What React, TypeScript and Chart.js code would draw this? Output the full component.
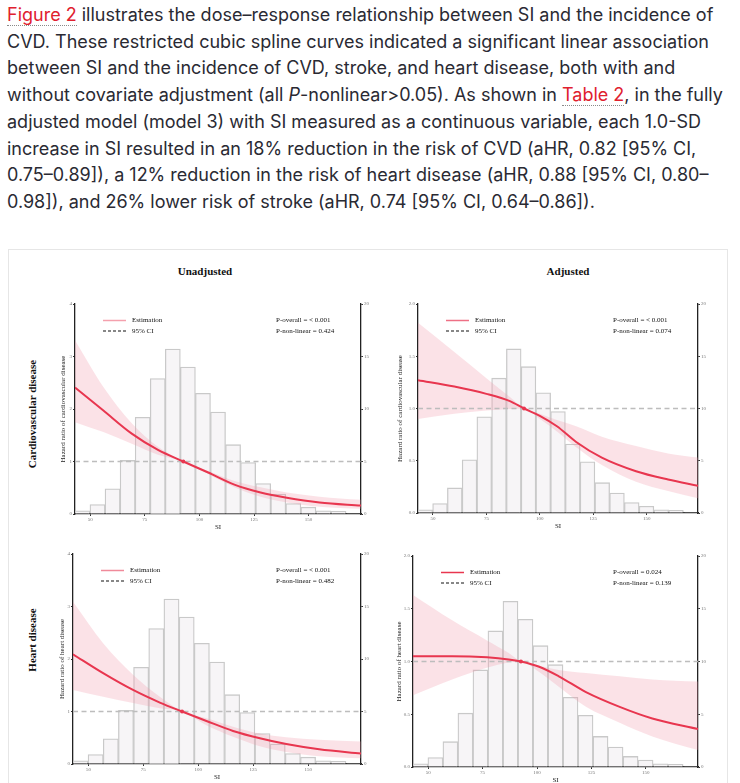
import React, { useEffect, useRef } from "react";
import { Chart, registerables } from "chart.js";
Chart.register(...registerables);

const SERIF = '"Liberation Serif", "DejaVu Serif", serif';

// Histogram of SI (percent), shared by all panels
const binCenters = [46.4, 53.3, 60.2, 67.1, 74.0, 80.9, 87.8, 94.7, 101.6, 108.5, 115.4, 122.3, 129.2, 136.1, 143.0, 149.9, 156.8, 163.7, 170.6];
const histPct = [0.3, 0.9, 2.4, 5.1, 9.2, 12.9, 15.7, 14.0, 11.5, 9.7, 6.6, 4.9, 2.9, 1.9, 1.0, 0.65, 0.3, 0.25, 0.05];

const xTicks = [50, 75, 100, 125, 150];
const xMin = 43;
const xMax = 174;
const refX = 92.6;

// Unadjusted, cardiovascular disease
const cvdUnadjX = [43, 56, 69, 81, 92.6, 104, 116, 128, 140, 155, 174];
const cvdUnadjEst = [2.41, 1.97, 1.53, 1.22, 1.0, 0.79, 0.56, 0.41, 0.31, 0.22, 0.16];
const cvdUnadjUp = [3.31, 2.42, 1.73, 1.28, 1.0, 0.82, 0.63, 0.51, 0.41, 0.33, 0.27];
const cvdUnadjLo = [1.75, 1.56, 1.34, 1.13, 1.0, 0.76, 0.51, 0.33, 0.22, 0.14, 0.1];

// Adjusted, cardiovascular disease
const cvdAdjX = [43, 60, 75, 86, 92.6, 100, 108, 117, 129, 145, 160, 174];
const cvdAdjEst = [1.27, 1.21, 1.14, 1.07, 1.0, 0.93, 0.83, 0.68, 0.53, 0.4, 0.32, 0.26];
const cvdAdjUp = [1.82, 1.54, 1.29, 1.11, 1.0, 0.95, 0.89, 0.83, 0.73, 0.64, 0.57, 0.53];
const cvdAdjLo = [0.9, 0.95, 0.98, 0.995, 1.0, 0.9, 0.78, 0.63, 0.46, 0.3, 0.21, 0.14];

// Unadjusted, heart disease
const hdUnadjX = [43, 56.7, 70.3, 82.5, 92.6, 103.7, 115.8, 128, 140, 155, 174];
const hdUnadjEst = [2.09, 1.73, 1.41, 1.17, 1.0, 0.82, 0.63, 0.49, 0.38, 0.28, 0.2];
const hdUnadjUp = [3.09, 2.3, 1.7, 1.28, 1.0, 0.87, 0.71, 0.58, 0.51, 0.46, 0.43];
const hdUnadjLo = [1.41, 1.28, 1.16, 1.06, 1.0, 0.74, 0.52, 0.34, 0.23, 0.15, 0.11];

// Adjusted, heart disease
const hdAdjX = [43, 61, 77, 87, 92.6, 101, 110, 122.5, 138, 153, 174];
const hdAdjEst = [1.05, 1.05, 1.04, 1.02, 1.0, 0.95, 0.86, 0.71, 0.57, 0.46, 0.36];
const hdAdjUp = [1.63, 1.39, 1.2, 1.08, 1.0, 0.96, 0.92, 0.89, 0.86, 0.83, 0.81];
const hdAdjLo = [0.68, 0.83, 0.94, 0.99, 1.0, 0.9, 0.76, 0.57, 0.42, 0.29, 0.16];

type PanelProps = {
  L: number; T: number; R: number; B: number;
  xs: number[]; est: number[]; up: number[]; lo: number[];
  yMax: number; yStep: number; yDec: number;
  yTitle: string; titleGap: number;
  pOverall: string; pNonlinear: string; legendColor: string;
};

const padL = 36, padR = 24, padT = 10, padB = 22;
const RED = "#e8364f";

function Panel(p: PanelProps) {
  const ref = useRef<HTMLCanvasElement | null>(null);
  const w = p.R - p.L + padL + padR;
  const h = p.B - p.T + padT + padB;
  useEffect(() => {
    if (!ref.current) return;
    const pts = (xs: number[], ys: number[]) => xs.map((x, i) => ({ x, y: ys[i] }));
    const overlay = {
      id: "overlay",
      afterDatasetsDraw(chart: any) {
        const { ctx, chartArea } = chart;
        const { left, top, right } = chartArea;
        ctx.save();
        ctx.font = `7px ${SERIF}`;
        ctx.fillStyle = "#111";
        ctx.textBaseline = "middle";
        ctx.textAlign = "left";
        const y1 = top + 16.5, y2 = top + 27;
        ctx.strokeStyle = p.legendColor;
        ctx.lineWidth = 1.5;
        ctx.beginPath(); ctx.moveTo(left + 28, y1); ctx.lineTo(left + 51, y1); ctx.stroke();
        ctx.strokeStyle = "#111";
        ctx.lineWidth = 1.1;
        ctx.setLineDash([3, 2]);
        ctx.beginPath(); ctx.moveTo(left + 28, y2); ctx.lineTo(left + 51, y2); ctx.stroke();
        ctx.setLineDash([]);
        ctx.fillText("Estimation", left + 57, y1);
        ctx.fillText("95% CI", left + 57, y2);
        ctx.fillText(p.pOverall, right - 85, y1);
        ctx.fillText(p.pNonlinear, right - 85, y2);
        ctx.restore();
      },
    };
    const tickFont = { family: SERIF, size: 5 };
    const grid = { display: true, drawOnChartArea: false, drawTicks: true, tickLength: 2, color: "#333", offset: false };
    const border = { display: true, color: "#222", width: 1.3 };
    const chart = new Chart(ref.current, {
      type: "bar",
      data: {
        datasets: [
          {
            type: "bar",
            data: binCenters.map((x, i) => ({ x, y: histPct[i] })),
            yAxisID: "y2",
            backgroundColor: "#f7f5f7",
            borderColor: "#c9c9c9",
            borderWidth: 1.3,
            barPercentage: 1,
            categoryPercentage: 1,
            order: 5,
          },
          {
            type: "line",
            data: pts(p.xs, p.up),
            yAxisID: "y",
            borderColor: "transparent",
            borderWidth: 0,
            pointRadius: 0,
            fill: "+1",
            backgroundColor: "rgba(240,150,168,0.28)",
            cubicInterpolationMode: "monotone",
            order: 4,
          },
          {
            type: "line",
            data: pts(p.xs, p.lo),
            yAxisID: "y",
            borderColor: "transparent",
            borderWidth: 0,
            pointRadius: 0,
            fill: false,
            cubicInterpolationMode: "monotone",
            order: 4,
          },
          {
            type: "line",
            data: [{ x: xMin, y: 1 }, { x: xMax, y: 1 }],
            yAxisID: "y",
            borderColor: "#bdbdbd",
            borderDash: [5, 3.5],
            borderWidth: 1.5,
            pointRadius: 0,
            fill: false,
            order: 3,
          },
          {
            type: "line",
            data: pts(p.xs, p.est),
            yAxisID: "y",
            borderColor: RED,
            borderWidth: 2,
            pointRadius: 0,
            fill: false,
            cubicInterpolationMode: "monotone",
            order: 2,
          },
          {
            type: "line",
            data: [{ x: refX, y: 1 }],
            yAxisID: "y",
            showLine: false,
            pointRadius: 2,
            pointBackgroundColor: RED,
            pointBorderWidth: 0,
            order: 1,
          },
        ] as any,
      },
      options: {
        animation: false,
        responsive: true,
        maintainAspectRatio: false,
        layout: { padding: { top: padT, left: 0, right: 0, bottom: 0 } },
        plugins: { legend: { display: false }, tooltip: { enabled: false }, title: { display: false } },
        scales: {
          x: {
            type: "linear",
            min: xMin,
            max: xMax,
            offset: false,
            grid,
            border,
            ticks: { font: tickFont, color: "#777", padding: 1, maxRotation: 0, autoSkip: false },
            afterBuildTicks: (s: any) => { s.ticks = xTicks.map((v) => ({ value: v })); },
            afterFit: (s: any) => { s.height = padB; },
            title: { display: true, text: "SI", font: { family: SERIF, size: 7 }, color: "#222", padding: { top: 0, bottom: 4.8 } },
          },
          y: {
            type: "linear",
            position: "left",
            min: 0,
            max: p.yMax,
            grid,
            border,
            ticks: {
              stepSize: p.yStep,
              font: tickFont,
              color: "#777",
              padding: 1,
              callback: (v: any) => Number(v).toFixed(p.yDec),
            },
            afterFit: (s: any) => { s.width = padL; },
            title: {
              display: true,
              text: p.yTitle,
              font: { family: SERIF, size: 7 },
              color: "#222",
              padding: { top: padL - p.titleGap - 4.2, bottom: 0 },
            },
          },
          y2: {
            type: "linear",
            position: "right",
            min: 0,
            max: 20,
            grid,
            border,
            ticks: { stepSize: 5, font: tickFont, color: "#777", padding: 1 },
            afterFit: (s: any) => { s.width = padR; },
          },
        },
      } as any,
      plugins: [overlay],
    });
    return () => chart.destroy();
  }, []);
  return (
    <div style={{ position: "absolute", left: p.L - padL, top: p.T - padT, width: w, height: h }}>
      <canvas ref={ref} />
    </div>
  );
}

const link: React.CSSProperties = { color: "#e0202e", borderBottom: "1px dotted #8a8a8a" };

export default function App() {
  return (
    <div>
      <div
        style={{
          position: "absolute", left: 7, top: 2, width: 730,
          fontFamily: "Inter, 'Noto Sans', sans-serif", fontSize: 18, lineHeight: "26.7px",
          color: "#2a2a33", whiteSpace: "nowrap",
        }}
      >
        <span style={link}>Figure 2</span> illustrates the dose–response relationship between SI and the incidence of<br />
        CVD. These restricted cubic spline curves indicated a significant linear association<br />
        between SI and the incidence of CVD, stroke, and heart disease, both with and<br />
        without covariate adjustment (all <i>P</i>-nonlinear&gt;0.05). As shown in <span style={link}>Table 2</span>, in the fully<br />
        adjusted model (model 3) with SI measured as a continuous variable, each 1.0-SD<br />
        increase in SI resulted in an 18% reduction in the risk of CVD (aHR, 0.82 [95% CI,<br />
        0.75–0.89]), a 12% reduction in the risk of heart disease (aHR, 0.88 [95% CI, 0.80–<br />
        0.98]), and 26% lower risk of stroke (aHR, 0.74 [95% CI, 0.64–0.86]).
      </div>
      <div style={{ position: "absolute", left: 8, top: 249, width: 718, height: 600, border: "1px solid #e6e6e6", background: "#fff" }} />
      <div style={{ position: "absolute", left: 105, width: 200, top: 265, textAlign: "center", font: `bold 11px ${SERIF}`, color: "#111" }}>Unadjusted</div>
      <div style={{ position: "absolute", left: 468, width: 200, top: 265, textAlign: "center", font: `bold 11px ${SERIF}`, color: "#111" }}>Adjusted</div>
      <div style={{ position: "absolute", left: 32 - 100, width: 200, top: 415 - 7, textAlign: "center", font: `bold 11px ${SERIF}`, color: "#111", transform: "rotate(-90deg)" }}>Cardiovascular disease</div>
      <div style={{ position: "absolute", left: 32 - 100, width: 200, top: 641 - 7, textAlign: "center", font: `bold 11px ${SERIF}`, color: "#111", transform: "rotate(-90deg)" }}>Heart disease</div>
      <Panel L={75} T={304} R={361} B={514} xs={cvdUnadjX} est={cvdUnadjEst} up={cvdUnadjUp} lo={cvdUnadjLo}
        yMax={4} yStep={1} yDec={0} yTitle="Hazard ratio of cardiovascular disease" titleGap={12}
        pOverall="P-overall = < 0.001" pNonlinear="P-non-linear = 0.424" legendColor="#f4a0ad" />
      <Panel L={418} T={304} R={698} B={513} xs={cvdAdjX} est={cvdAdjEst} up={cvdAdjUp} lo={cvdAdjLo}
        yMax={2} yStep={0.5} yDec={1} yTitle="Hazard ratio of cardiovascular disease" titleGap={18}
        pOverall="P-overall = < 0.001" pNonlinear="P-non-linear = 0.074" legendColor="#ee7085" />
      <Panel L={73} T={554} R={361} B={764} xs={hdUnadjX} est={hdUnadjEst} up={hdUnadjUp} lo={hdUnadjLo}
        yMax={4} yStep={1} yDec={0} yTitle="Hazard ratio of heart disease" titleGap={11}
        pOverall="P-overall = < 0.001" pNonlinear="P-non-linear = 0.482" legendColor="#f08a9a" />
      <Panel L={413} T={556} R={698} B={767} xs={hdAdjX} est={hdAdjEst} up={hdAdjUp} lo={hdAdjLo}
        yMax={2} yStep={0.5} yDec={1} yTitle="Hazard ratio of heart disease" titleGap={14}
        pOverall="P-overall = 0.024" pNonlinear="P-non-linear = 0.139" legendColor={RED} />
    </div>
  );
}
